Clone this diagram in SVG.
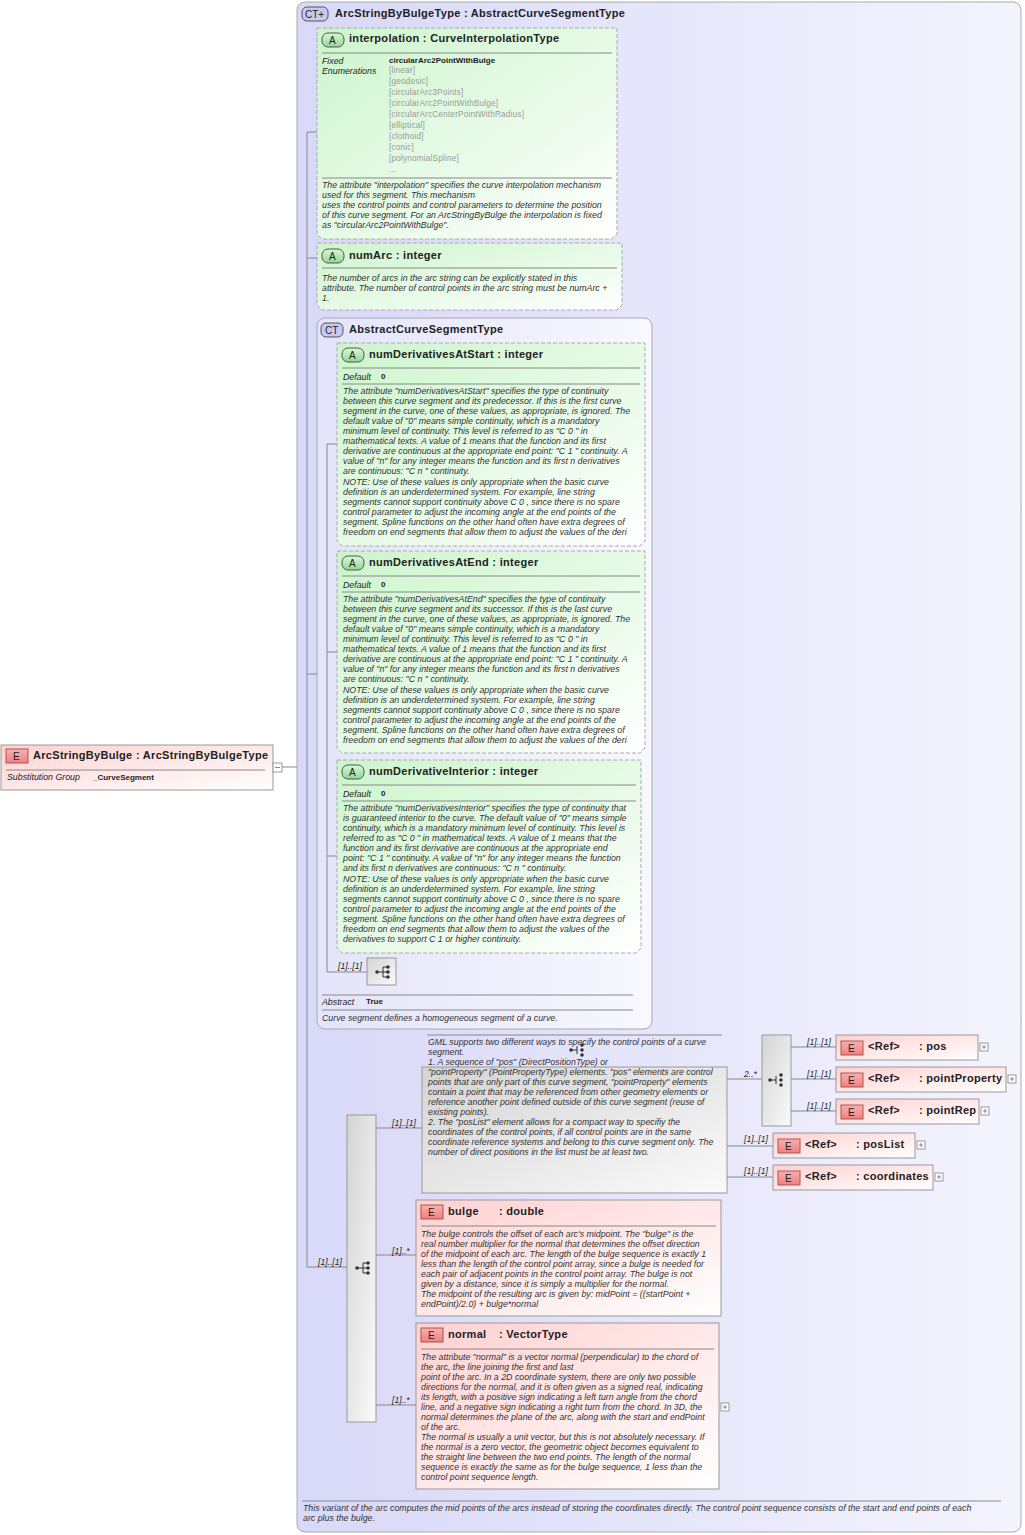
<svg xmlns="http://www.w3.org/2000/svg" width="1025" height="1535" viewBox="0 0 1025 1535">
<defs>
<linearGradient id="gE" x1="0" y1="0" x2="1" y2="1"><stop offset="0" stop-color="#ffd0d0"/><stop offset="1" stop-color="#ffffff"/></linearGradient>
<linearGradient id="gA" x1="0" y1="0" x2="1" y2="1"><stop offset="0" stop-color="#ccf5cc"/><stop offset="1" stop-color="#ffffff"/></linearGradient>
<linearGradient id="gCT" x1="0" y1="0" x2="1" y2="0"><stop offset="0" stop-color="#d8d8f8"/><stop offset="1" stop-color="#f4f4fe"/></linearGradient>
<linearGradient id="gCT2" x1="0" y1="0" x2="1" y2="0"><stop offset="0" stop-color="#e4e4fa"/><stop offset="1" stop-color="#f8f8ff"/></linearGradient>
<linearGradient id="gG" x1="0" y1="0" x2="1" y2="1"><stop offset="0" stop-color="#d4d4d4"/><stop offset="1" stop-color="#fafafa"/></linearGradient>
<linearGradient id="gB" x1="0" y1="0" x2="0" y2="1"><stop offset="0" stop-color="#f8b0b0"/><stop offset="1" stop-color="#f08080"/></linearGradient>
<linearGradient id="gAB" x1="0" y1="0" x2="0" y2="1"><stop offset="0" stop-color="#d8f8d8"/><stop offset="1" stop-color="#90d890"/></linearGradient>
<g id="seqIcon"><line x1="-6" y1="0" x2="0" y2="0" stroke="#333"/><path d="M0,-5 V5 M0,-5 H4 M0,0 H4 M0,5 H4" stroke="#333" fill="none"/><circle cx="-6" cy="0" r="1.8" fill="#333"/><circle cx="5" cy="-5" r="1.8" fill="#333"/><circle cx="5" cy="0" r="1.8" fill="#333"/><circle cx="5" cy="5" r="1.8" fill="#333"/></g>
<g id="choiceIcon"><line x1="-6" y1="0" x2="0" y2="0" stroke="#333"/><path d="M0,-4 V4" stroke="#333"/><circle cx="-6" cy="0" r="1.8" fill="#333"/><circle cx="5" cy="-5" r="1.8" fill="#333"/><circle cx="5" cy="0" r="1.8" fill="#333"/><circle cx="5" cy="5" r="1.8" fill="#333"/></g>
</defs>
<style>
text{font-family:"Liberation Sans",Arial,sans-serif;fill:#222}
.t{font-size:11px;font-weight:bold;letter-spacing:0.3px}
.d{font-size:8.8px;font-style:italic;fill:#333}
.k{font-size:8.8px;font-style:italic}
.v{font-size:8px;font-weight:bold}
.en{font-size:8.2px;fill:#999;letter-spacing:0.2px}
.m{font-size:8.6px;font-style:italic}
.b{font-size:10px}
.el{fill:url(#gE);stroke:#999}
.at{fill:url(#gA);stroke:#aaa;stroke-dasharray:4,2}
.sep{stroke:#888;stroke-width:1}
.c{stroke:#888;fill:none}
.grp{fill:url(#gG);stroke:#999}
.pl{fill:#fff;stroke:#999}
</style>

<g id="ArcStringByBulgeType">
<rect x="297" y="2" width="724" height="1530" rx="8" fill="url(#gCT)" stroke="#aaa"/>
<rect x="302" y="7" width="26" height="14" rx="5" fill="#c8c8f0" stroke="#555"/>
<text x="305" y="18" class="b">CT+</text>
<text x="335" y="17" class="t">ArcStringByBulgeType : AbstractCurveSegmentType</text>
<line x1="302" y1="1501" x2="1001" y2="1501" class="sep"/>
<text class="d" x="303" y="1511" font-size="8.5">This variant of the arc computes the mid points of the arcs instead of storing the coordinates directly. The control point sequence consists of the start and end points of each</text>
<text class="d" x="303" y="1521" font-size="8.5">arc plus the bulge.</text>
</g>

<g id="ArcStringByBulge">
<rect x="1" y="745" width="272" height="45" class="el"/>
<rect x="6" y="749" width="22" height="14" fill="url(#gB)" stroke="#a55"/>
<text x="13" y="760" class="b">E</text>
<text x="33" y="759" class="t">ArcStringByBulge : ArcStringByBulgeType</text>
<line x1="6" y1="770" x2="265" y2="770" class="sep"/>
<text class="k" x="7" y="780">Substitution Group</text>
<text class="v" x="93" y="780">_CurveSegment</text>
<rect x="273" y="763" width="9" height="9" class="pl"/>
<line x1="275" y1="767.5" x2="280" y2="767.5" stroke="#888"/>
</g>

<g id="interpolation">
<path d="M317,28 H617 V234 L612,239 H322 L317,234 Z" class="at"/>
<rect x="322" y="33" width="22" height="14" rx="6" fill="url(#gAB)" stroke="#555"/>
<text x="329" y="44" class="b">A</text>
<text x="349" y="42" class="t">interpolation : CurveInterpolationType</text>
<line x1="322" y1="53" x2="612" y2="53" class="sep"/>
<text class="k" x="322" y="64">Fixed</text>
<text class="k" x="322" y="74">Enumerations</text>
<text class="v" x="389" y="63">circularArc2PointWithBulge</text>
<text class="en" x="389" y="73">[linear]</text>
<text class="en" x="389" y="84">[geodesic]</text>
<text class="en" x="389" y="95">[circularArc3Points]</text>
<text class="en" x="389" y="106">[circularArc2PointWithBulge]</text>
<text class="en" x="389" y="117">[circularArcCenterPointWithRadius]</text>
<text class="en" x="389" y="128">[elliptical]</text>
<text class="en" x="389" y="139">[clothoid]</text>
<text class="en" x="389" y="150">[conic]</text>
<text class="en" x="389" y="161">[polynomialSpline]</text>
<text class="en" x="389" y="172">...</text>
<line x1="322" y1="178" x2="612" y2="178" class="sep"/>
<text class="d" x="322" y="188">The attribute "interpolation" specifies the curve interpolation mechanism</text>
<text class="d" x="322" y="198">used for this segment. This mechanism</text>
<text class="d" x="322" y="208">uses the control points and control parameters to determine the position</text>
<text class="d" x="322" y="218">of this curve segment. For an ArcStringByBulge the interpolation is fixed</text>
<text class="d" x="322" y="228">as "circularArc2PointWithBulge".</text>
</g>

<g id="numArc">
<path d="M317,243 H622 V305 L617,310 H322 L317,305 Z" class="at"/>
<rect x="322" y="249" width="22" height="14" rx="6" fill="url(#gAB)" stroke="#555"/>
<text x="329" y="260" class="b">A</text>
<text x="349" y="259" class="t">numArc  : integer</text>
<line x1="322" y1="268" x2="617" y2="268" class="sep"/>
<text class="d" x="322" y="281">The number of arcs in the arc string can be explicitly stated in this</text>
<text class="d" x="322" y="291">attribute. The number of control points in the arc string must be numArc +</text>
<text class="d" x="322" y="301">1.</text>
</g>

<g id="AbstractCurveSegmentType">
<rect x="317" y="318" width="335" height="711" rx="8" fill="url(#gCT2)" stroke="#aaa"/>
<rect x="321" y="323" width="22" height="14" rx="5" fill="#c8c8f0" stroke="#555"/>
<text x="325" y="334" class="b">CT</text>
<text x="349" y="333" class="t">AbstractCurveSegmentType</text>
<line x1="322" y1="995" x2="633" y2="995" class="sep"/>
<text class="k" x="322" y="1005">Abstract</text>
<text class="v" x="366" y="1004">True</text>
<line x1="322" y1="1010" x2="633" y2="1010" class="sep"/>
<text class="d" x="322" y="1021">Curve segment defines a homogeneous segment of a curve.</text>
</g>

<g id="numDerivativesAtStart">
<path d="M337,343 H645 V541 L640,546 H342 L337,541 Z" class="at"/>
<rect x="342" y="348" width="22" height="14" rx="6" fill="url(#gAB)" stroke="#555"/>
<text x="349" y="359" class="b">A</text>
<text x="369" y="358" class="t">numDerivativesAtStart : integer</text>
<line x1="342" y1="368" x2="640" y2="368" class="sep"/>
<text class="k" x="343" y="380">Default</text><text class="v" x="381" y="379">0</text>
<line x1="342" y1="384" x2="640" y2="384" class="sep"/>
<text class="d" x="343" y="394">The attribute "numDerivativesAtStart" specifies the type of continuity</text>
<text class="d" x="343" y="404">between this curve segment and its predecessor. If this is the first curve</text>
<text class="d" x="343" y="414">segment in the curve, one of these values, as appropriate, is ignored. The</text>
<text class="d" x="343" y="424">default value of "0" means simple continuity, which is a mandatory</text>
<text class="d" x="343" y="434">minimum level of continuity. This level is referred to as "C 0 " in</text>
<text class="d" x="343" y="444">mathematical texts. A value of 1 means that the function and its first</text>
<text class="d" x="343" y="454">derivative are continuous at the appropriate end point: "C 1 " continuity. A</text>
<text class="d" x="343" y="464">value of "n" for any integer means the function and its first n derivatives</text>
<text class="d" x="343" y="474">are continuous: "C n " continuity.</text>
<text class="d" x="343" y="485">NOTE: Use of these values is only appropriate when the basic curve</text>
<text class="d" x="343" y="495">definition is an underdetermined system. For example, line string</text>
<text class="d" x="343" y="505">segments cannot support continuity above C 0 , since there is no spare</text>
<text class="d" x="343" y="515">control parameter to adjust the incoming angle at the end points of the</text>
<text class="d" x="343" y="525">segment. Spline functions on the other hand often have extra degrees of</text>
<text class="d" x="343" y="535">freedom on end segments that allow them to adjust the values of the deri</text>
</g>

<g id="numDerivativesAtEnd">
<path d="M337,551 H645 V748 L640,753 H342 L337,748 Z" class="at"/>
<rect x="342" y="556" width="22" height="14" rx="6" fill="url(#gAB)" stroke="#555"/>
<text x="349" y="567" class="b">A</text>
<text x="369" y="566" class="t">numDerivativesAtEnd : integer</text>
<line x1="342" y1="576" x2="640" y2="576" class="sep"/>
<text class="k" x="343" y="588">Default</text><text class="v" x="381" y="587">0</text>
<line x1="342" y1="592" x2="640" y2="592" class="sep"/>
<text class="d" x="343" y="602">The attribute "numDerivativesAtEnd" specifies the type of continuity</text>
<text class="d" x="343" y="612">between this curve segment and its successor. If this is the last curve</text>
<text class="d" x="343" y="622">segment in the curve, one of these values, as appropriate, is ignored. The</text>
<text class="d" x="343" y="632">default value of "0" means simple continuity, which is a mandatory</text>
<text class="d" x="343" y="642">minimum level of continuity. This level is referred to as "C 0 " in</text>
<text class="d" x="343" y="652">mathematical texts. A value of 1 means that the function and its first</text>
<text class="d" x="343" y="662">derivative are continuous at the appropriate end point: "C 1 " continuity. A</text>
<text class="d" x="343" y="672">value of "n" for any integer means the function and its first n derivatives</text>
<text class="d" x="343" y="682">are continuous: "C n " continuity.</text>
<text class="d" x="343" y="693">NOTE: Use of these values is only appropriate when the basic curve</text>
<text class="d" x="343" y="703">definition is an underdetermined system. For example, line string</text>
<text class="d" x="343" y="713">segments cannot support continuity above C 0 , since there is no spare</text>
<text class="d" x="343" y="723">control parameter to adjust the incoming angle at the end points of the</text>
<text class="d" x="343" y="733">segment. Spline functions on the other hand often have extra degrees of</text>
<text class="d" x="343" y="743">freedom on end segments that allow them to adjust the values of the deri</text>
</g>

<g id="numDerivativeInterior">
<path d="M337,760 H641 V948 L636,953 H342 L337,948 Z" class="at"/>
<rect x="342" y="765" width="22" height="14" rx="6" fill="url(#gAB)" stroke="#555"/>
<text x="349" y="776" class="b">A</text>
<text x="369" y="775" class="t">numDerivativeInterior : integer</text>
<line x1="342" y1="785" x2="636" y2="785" class="sep"/>
<text class="k" x="343" y="797">Default</text><text class="v" x="381" y="796">0</text>
<line x1="342" y1="801" x2="636" y2="801" class="sep"/>
<text class="d" x="343" y="811">The attribute "numDerivativesInterior" specifies the type of continuity that</text>
<text class="d" x="343" y="821">is guaranteed interior to the curve. The default value of "0" means simple</text>
<text class="d" x="343" y="831">continuity, which is a mandatory minimum level of continuity. This level is</text>
<text class="d" x="343" y="841">referred to as "C 0 " in mathematical texts. A value of 1 means that the</text>
<text class="d" x="343" y="851">function and its first derivative are continuous at the appropriate end</text>
<text class="d" x="343" y="861">point: "C 1 " continuity. A value of "n" for any integer means the function</text>
<text class="d" x="343" y="871">and its first n derivatives are continuous: "C n " continuity.</text>
<text class="d" x="343" y="882">NOTE: Use of these values is only appropriate when the basic curve</text>
<text class="d" x="343" y="892">definition is an underdetermined system. For example, line string</text>
<text class="d" x="343" y="902">segments cannot support continuity above C 0 , since there is no spare</text>
<text class="d" x="343" y="912">control parameter to adjust the incoming angle at the end points of the</text>
<text class="d" x="343" y="922">segment. Spline functions on the other hand often have extra degrees of</text>
<text class="d" x="343" y="932">freedom on end segments that allow them to adjust the values of the</text>
<text class="d" x="343" y="942">derivatives to support C 1 or higher continuity.</text>
</g>

<g id="seqAbstract">
<rect x="367" y="958" width="29" height="27" class="grp"/>
<use href="#seqIcon" x="383" y="972"/>
</g>

<g id="seqMain">
<rect x="347" y="1115" width="29" height="307" class="grp"/>
<use href="#seqIcon" x="363" y="1268"/>
</g>

<g id="controlPointsGroup">
<line x1="427" y1="1035" x2="722" y2="1035" class="sep"/>
<rect x="422" y="1067" width="305" height="126" class="grp"/>
<use href="#choiceIcon" x="577" y="1050"/>
<text class="d" x="428" y="1045">GML supports two different ways to specify the control points of a curve</text>
<text class="d" x="428" y="1055">segment.</text>
<text class="d" x="428" y="1065">1. A sequence of "pos" (DirectPositionType) or</text>
<text class="d" x="428" y="1075">"pointProperty" (PointPropertyType) elements. "pos" elements are control</text>
<text class="d" x="428" y="1085">points that are only part of this curve segment, "pointProperty" elements</text>
<text class="d" x="428" y="1095">contain a point that may be referenced from other geometry elements or</text>
<text class="d" x="428" y="1105">reference another point defined outside of this curve segment (reuse of</text>
<text class="d" x="428" y="1115">existing points).</text>
<text class="d" x="428" y="1125">2. The "posList" element allows for a compact way to specifiy the</text>
<text class="d" x="428" y="1135">coordinates of the control points, if all control points are in the same</text>
<text class="d" x="428" y="1145">coordinate reference systems and belong to this curve segment only. The</text>
<text class="d" x="428" y="1155">number of direct positions in the list must be at least two.</text>
</g>

<g id="choicePos">
<rect x="762" y="1035" width="29" height="91" class="grp"/>
<use href="#choiceIcon" x="776" y="1080"/>
</g>

<g id="pos">
<rect x="836" y="1035" width="142" height="25" class="el"/>
<rect x="841" y="1041" width="22" height="14" fill="url(#gB)" stroke="#a55"/><text x="848" y="1052" class="b">E</text>
<text x="868" y="1050" class="t" font-weight="normal">&lt;Ref&gt;</text><text x="919" y="1050" class="t">: pos</text>
<rect x="980" y="1043" width="8" height="8" class="pl"/><path d="M982,1047 H986 M984,1045 V1049" stroke="#888"/>
</g>
<g id="pointProperty">
<rect x="836" y="1067" width="170" height="25" class="el"/>
<rect x="841" y="1073" width="22" height="14" fill="url(#gB)" stroke="#a55"/><text x="848" y="1084" class="b">E</text>
<text x="868" y="1082" class="t" font-weight="normal">&lt;Ref&gt;</text><text x="919" y="1082" class="t">: pointProperty</text>
<rect x="1008" y="1075" width="8" height="8" class="pl"/><path d="M1010,1079 H1014 M1012,1077 V1081" stroke="#888"/>
</g>
<g id="pointRep">
<rect x="836" y="1099" width="143" height="25" class="el"/>
<rect x="841" y="1105" width="22" height="14" fill="url(#gB)" stroke="#a55"/><text x="848" y="1116" class="b">E</text>
<text x="868" y="1114" class="t" font-weight="normal">&lt;Ref&gt;</text><text x="919" y="1114" class="t">: pointRep</text>
<rect x="981" y="1107" width="8" height="8" class="pl"/><path d="M983,1111 H987 M985,1109 V1113" stroke="#888"/>
</g>
<g id="posList">
<rect x="773" y="1133" width="142" height="25" class="el"/>
<rect x="778" y="1139" width="22" height="14" fill="url(#gB)" stroke="#a55"/><text x="785" y="1150" class="b">E</text>
<text x="805" y="1148" class="t" font-weight="normal">&lt;Ref&gt;</text><text x="856" y="1148" class="t">: posList</text>
<rect x="917" y="1141" width="8" height="8" class="pl"/><path d="M919,1145 H923 M921,1143 V1147" stroke="#888"/>
</g>
<g id="coordinates">
<rect x="773" y="1165" width="160" height="25" class="el"/>
<rect x="778" y="1171" width="22" height="14" fill="url(#gB)" stroke="#a55"/><text x="785" y="1182" class="b">E</text>
<text x="805" y="1180" class="t" font-weight="normal">&lt;Ref&gt;</text><text x="856" y="1180" class="t">: coordinates</text>
<rect x="935" y="1173" width="8" height="8" class="pl"/><path d="M937,1177 H941 M939,1175 V1179" stroke="#888"/>
</g>

<g id="bulge">
<rect x="416" y="1200" width="305" height="116" class="el"/>
<rect x="421" y="1205" width="22" height="14" fill="url(#gB)" stroke="#a55"/><text x="428" y="1216" class="b">E</text>
<text x="448" y="1215" class="t">bulge</text><text x="499" y="1215" class="t">: double</text>
<line x1="421" y1="1226" x2="716" y2="1226" class="sep"/>
<text class="d" x="421" y="1237">The bulge controls the offset of each arc's midpoint. The "bulge" is the</text>
<text class="d" x="421" y="1247">real number multiplier for the normal that determines the offset direction</text>
<text class="d" x="421" y="1257">of the midpoint of each arc. The length of the bulge sequence is exactly 1</text>
<text class="d" x="421" y="1267">less than the length of the control point array, since a bulge is needed for</text>
<text class="d" x="421" y="1277">each pair of adjacent points in the control point array. The bulge is not</text>
<text class="d" x="421" y="1287">given by a distance, since it is simply a multiplier for the normal.</text>
<text class="d" x="421" y="1297">The midpoint of the resulting arc is given by: midPoint = ((startPoint +</text>
<text class="d" x="421" y="1307">endPoint)/2.0) + bulge*normal</text>
</g>

<g id="normal">
<rect x="416" y="1323" width="303" height="166" class="el"/>
<rect x="421" y="1328" width="22" height="14" fill="url(#gB)" stroke="#a55"/><text x="428" y="1339" class="b">E</text>
<text x="448" y="1338" class="t">normal</text><text x="499" y="1338" class="t">: VectorType</text>
<line x1="421" y1="1349" x2="714" y2="1349" class="sep"/>
<text class="d" x="421" y="1360">The attribute "normal" is a vector normal (perpendicular) to the chord of</text>
<text class="d" x="421" y="1370">the arc, the line joining the first and last</text>
<text class="d" x="421" y="1380">point of the arc. In a 2D coordinate system, there are only two possible</text>
<text class="d" x="421" y="1390">directions for the normal, and it is often given as a signed real, indicating</text>
<text class="d" x="421" y="1400">its length, with a positive sign indicating a left turn angle from the chord</text>
<text class="d" x="421" y="1410">line, and a negative sign indicating a right turn from the chord. In 3D, the</text>
<text class="d" x="421" y="1420">normal determines the plane of the arc, along with the start and endPoint</text>
<text class="d" x="421" y="1430">of the arc.</text>
<text class="d" x="421" y="1440">The normal is usually a unit vector, but this is not absolutely necessary. If</text>
<text class="d" x="421" y="1450">the normal is a zero vector, the geometric object becomes equivalent to</text>
<text class="d" x="421" y="1460">the straight line between the two end points. The length of the normal</text>
<text class="d" x="421" y="1470">sequence is exactly the same as for the bulge sequence, 1 less than the</text>
<text class="d" x="421" y="1480">control point sequence length.</text>
<rect x="721" y="1403" width="8" height="8" class="pl"/><path d="M723,1407 H727 M725,1405 V1409" stroke="#888"/>
</g>

<g id="connectors">
<path class="c" d="M282,767 H297"/>
<path class="c" d="M307,132 V1267 M307,132 H317 M307,258 H317 M307,674 H317 M307,1267 H347"/>
<path class="c" d="M327,444 V972 M327,444 H337 M327,652 H337 M327,856 H337 M327,972 H367"/>
<path class="c" d="M376,1128 H422 M376,1255 H416 M376,1405 H416"/>
<path class="c" d="M727,1079 H762 M727,1146 H773 M727,1177 H773"/>
<path class="c" d="M791,1047 H836 M791,1079 H836 M791,1111 H836"/>
<text class="m" x="318" y="1265">[1]..[1]</text>
<text class="m" x="338" y="969">[1]..[1]</text>
<text class="m" x="392" y="1126">[1]..[1]</text>
<text class="m" x="392" y="1254">[1]..*</text>
<text class="m" x="392" y="1403">[1]..*</text>
<text class="m" x="744" y="1077" font-style="normal">2..*</text>
<text class="m" x="807" y="1045">[1]..[1]</text>
<text class="m" x="807" y="1077">[1]..[1]</text>
<text class="m" x="807" y="1109">[1]..[1]</text>
<text class="m" x="744" y="1142">[1]..[1]</text>
<text class="m" x="744" y="1174">[1]..[1]</text>
</g>
</svg>
